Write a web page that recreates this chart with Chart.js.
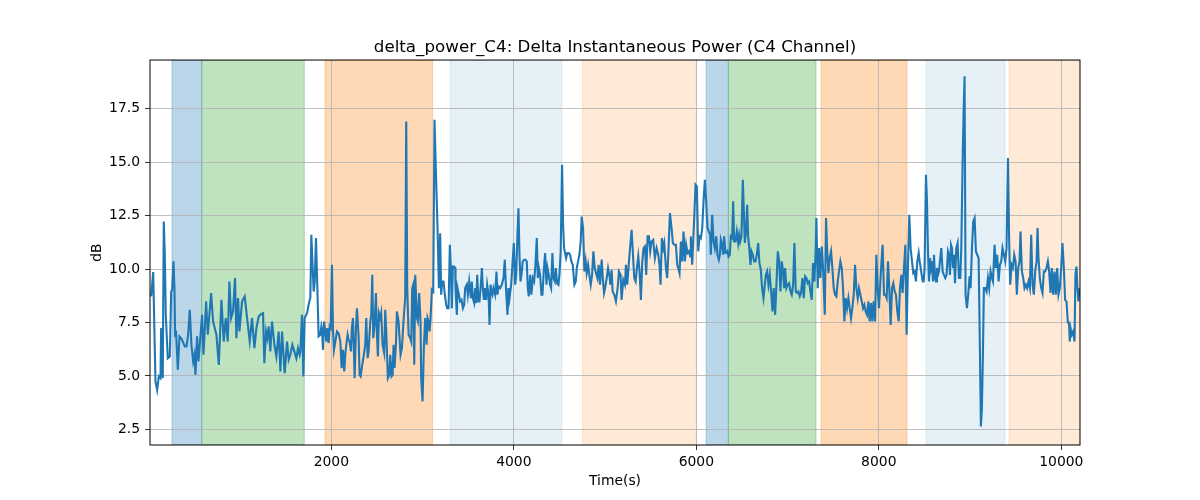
<!DOCTYPE html>
<html>
<head>
<meta charset="utf-8">
<script src="https://cdn.jsdelivr.net/npm/chart.js@4.4.1/dist/chart.umd.min.js"></script>
<style>
  html, body { margin: 0; padding: 0; background: #fff; }
</style>
</head>
<body>
<canvas id="powerChart" width="1200" height="500"></canvas>
<script>
// samples: time (s) and delta power (dB)
var timeSec = [
  26,48,73,91,110,128,135,153,164,175,
  186,208,230,245,256,270,281,288,299,318,
  336,354,372,394,413,431,449,467,486,500,
  511,529,544,584,599,628,646,683,704,741,
  767,796,821,843,865,883,902,923,945,960,
  978,993,1022,1051,1077,1106,1131,1157,1179,1204,
  1230,1252,1266,1285,1299,1314,1332,1350,1376,1398,
  1423,1442,1460,1489,1515,1533,1551,1573,1595,1617,
  1635,1653,
  1661,1679,1694,1708,1734,1759,1770,1781,1796,1807,
  1818,1832,1847,1861,1880,1891,1898,1909,1920,1934,
  1945,1956,1971,1982,1993,2007,2018,2029,2044,2062,
  2080,2099,2113,2128,2142,2153,2164,2179,2190,2201,
  2215,2226,2237,2256,2270,2281,2299,2310,2321,2336,
  2354,2372,2383,2398,2409,2427,2438,2449,2460,2474,
  2489,2500,2511,2522,2537,2547,2562,2580,2591,2602,
  2620,2635,2646,2661,2672,2682,2693,2708,2719,2737,
  2759,2774,2792,2810,2821,2832,2847,2865,2876,2887,
  2898,2909,2920,2938,2949,2963,2978,2985,3000,3015,
  3029,3044,3055,3066,3077,3088,3102,3117,3131,3146,
  3164,3179,3193,3204,3215,3230,3244,3259,3270,3285,
  3299,3310,3321,3332,3347,3358,
  3361,3376,3383,3398,3412,3427,3442,3456,3467,3485,
  3496,3511,3529,3540,3551,3566,3577,3588,3599,3613,
  3624,3639,3650,3661,3672,3686,3697,3708,3723,3734,
  3745,3755,3766,3777,3796,3810,3821,3832,3850,3869,
  3887,3901,3916,3931,3942,3953,3971,3985,4000,4015,
  4026,4040,4051,4062,4073,4084,4098,4113,4128,4142,
  4153,4164,4179,4193,4208,4223,4237,4252,4263,4274,
  4288,4303,4314,4328,4343,4358,4369,4383,4398,4409,
  4423,4434,4449,4460,4474,4489,4500,4514,4529,4540,
  4551,4562,4573,4587,4602,4617,4631,4646,4664,4679,
  4690,4704,4719,4733,4744,4759,4774,4788,4799,4814,
  4828,4843,4858,4872,4887,4901,4916,4930,4945,4963,
  4978,4989,5000,5018,5033,5047,5055,
  5057,5072,5083,5101,5119,5138,5152,5170,5181,5200,
  5218,5229,5243,5262,5280,5291,5306,5320,5335,5349,
  5364,5378,5393,5408,5422,5437,5451,5466,5481,5495,
  5510,5528,5546,5565,5583,5597,5608,5623,5638,5649,
  5667,5681,5696,5711,5729,5743,5758,5776,5791,5802,
  5816,5831,5846,5860,5875,5889,5904,5919,5933,5940,
  5955,5966,5977,5992,6006,6021,6035,6050,6065,6079,
  6094,6108,6123,6137,6152,6159,6174,6189,6203,6218,
  6232,6247,6258,6269,6283,6294,6305,6320,6331,6342,
  6353,6367,6378,6393,6404,6415,6429,6444,6459,6470,
  6481,6495,6510,6521,6532,6546,6557,6568,6579,6594,
  6605,6619,6634,6648,6663,6678,6692,6707,6721,6736,
  6751,
  6762,6776,6791,6805,6820,6835,6849,6864,6878,6893,
  6908,6922,6937,6951,6962,6973,6988,7003,7017,7032,
  7046,7061,7075,7090,7105,7119,7134,7148,7163,7178,
  7192,7207,7221,7236,7251,7265,7280,7294,7309,7316,
  7331,7346,7360,7375,7389,7408,7422,7433,7448,7462,
  7477,7491,7506,7521,7535,7550,7564,7579,7594,7608,
  7623,7637,7652,7667,7681,7696,7710,7725,7740,7754,
  7769,7783,7798,7813,7827,7842,7856,7871,7886,7900,
  7915,7929,7944,7959,7973,7988,8002,8017,8032,8042,
  8057,8072,8086,8101,8115,8130,8145,8159,8174,8188,
  8203,8218,8232,8247,8261,8276,8291,8305,8320,8334,
  8349,8364,8378,8393,8407,8422,8437,8448,
  8459,8470,8481,8492,8502,8517,8528,8539,8550,8561,
  8572,8583,8594,8605,8616,8627,8637,8648,8659,8670,
  8685,8700,8714,8729,8743,8758,8769,8780,8791,8802,
  8813,8824,8835,8849,8864,8878,8893,8904,8918,8929,
  8940,8951,8966,8980,8995,9006,9021,9035,9050,9064,
  9079,9094,9108,9119,9130,9141,9152,9167,9181,9196,
  9210,9225,9240,9251,9269,9283,9298,9313,9327,9342,
  9356,9371,9386,9400,9415,9429,9440,9455,9469,9484,
  9499,9513,9528,9542,9553,9568,9583,9597,9612,9626,
  9641,9656,9670,9685,9699,9714,9729,9740,9750,9765,
  9780,9794,9809,9823,9838,9853,9867,9882,9896,9911,
  9926,9940,9955,9969,9984,9999,10013,10028,10042,10057,
  10071,10086,10093,10101,10115,10130,10145,10155,10166,10177,
  10188,10199
];

var deltaDb = [
  8.72,9.86,4.74,4.35,4.98,4.90,7.24,4.90,12.23,10.67,
  7.86,5.83,5.91,8.95,9.03,10.36,9.11,6.93,7.00,5.29,
  6.85,6.77,6.61,6.38,6.38,6.93,8.10,6.46,5.68,5.99,
  5.05,6.85,5.68,7.86,5.99,8.49,6.93,8.88,7.55,6.93,
  5.52,8.56,6.61,7.71,6.61,9.42,7.71,8.02,9.58,6.77,
  8.64,7.08,8.49,8.72,7.71,6.61,7.71,6.30,7.24,7.78,
  7.89,7.94,5.60,7.08,6.77,7.32,6.15,7.55,6.46,5.91,
  7.08,5.21,7.08,5.13,6.61,5.76,5.99,6.46,6.15,5.83,
  6.30,5.99,
  6.15,7.86,4.98,7.71,7.94,8.49,8.64,11.61,10.05,8.95,
  9.42,11.45,9.11,6.85,6.93,7.32,7.16,6.22,7.55,7.08,
  6.61,7.24,6.54,7.32,7.24,10.20,7.24,6.22,6.61,7.08,
  7.00,6.61,5.37,6.22,5.21,5.99,6.46,6.93,6.69,6.61,
  6.15,7.24,7.71,4.90,7.24,8.17,6.85,5.05,4.98,5.44,
  5.91,6.46,7.71,5.83,6.15,7.55,7.86,9.73,6.77,7.39,
  8.88,6.93,5.91,7.94,7.71,7.94,6.46,6.07,8.10,7.08,
  4.90,5.05,5.99,4.98,5.05,6.46,5.37,6.46,8.02,7.55,
  5.99,6.30,7.63,8.64,16.91,9.11,6.93,6.77,6.61,9.11,
  9.27,5.52,9.73,7.71,7.55,8.88,7.55,4.90,3.81,6.46,
  7.71,6.46,7.71,7.55,7.08,7.71,9.03,8.95,16.99,14.57,
  11.92,9.11,11.68,8.80,9.42,9.42,8.80,8.33,8.17,8.17,
  11.14,10.05,8.17,10.12,10.12,10.05,
  9.11,7.86,9.11,8.80,8.49,8.56,8.17,8.33,9.11,9.27,
  8.80,9.42,8.64,9.42,8.64,8.41,9.11,8.41,9.73,8.49,
  8.49,9.27,10.05,9.11,8.56,9.11,8.56,9.27,8.80,7.39,
  9.27,8.95,8.80,9.11,8.80,9.89,8.80,9.19,9.11,9.27,
  9.58,10.44,8.95,7.86,9.11,8.64,9.27,10.20,11.22,9.27,
  9.73,11.61,12.85,10.67,9.42,9.73,10.36,10.44,10.44,10.36,
  9.11,8.72,9.73,8.80,9.58,9.42,10.20,11.45,9.58,10.05,
  9.73,8.80,8.80,9.89,10.75,9.27,10.05,9.73,9.27,9.11,
  10.75,9.58,9.42,10.05,9.34,9.27,9.73,10.83,14.88,12.07,
  10.98,10.75,10.51,10.75,10.75,10.67,10.36,10.20,9.27,9.42,
  10.05,10.36,10.67,11.29,12.46,11.92,9.89,10.36,9.81,10.20,
  9.73,9.27,9.73,10.83,10.05,9.81,9.58,10.20,9.27,10.44,
  9.42,8.88,9.11,9.58,10.05,9.73,9.42,
  9.27,9.97,8.95,8.80,8.49,9.11,9.89,9.73,8.56,9.50,
  9.27,10.20,9.27,10.36,11.29,11.84,10.67,9.58,9.42,10.05,
  10.59,9.89,8.56,10.36,10.98,11.06,9.73,11.53,11.53,10.83,
  11.29,11.37,10.51,10.98,10.67,10.20,9.27,11.45,10.98,11.22,
  10.05,9.58,10.98,12.62,11.92,11.22,11.14,11.14,10.20,10.05,
  9.81,11.29,10.36,11.76,10.36,11.14,10.75,10.83,10.59,11.53,
  10.20,11.29,12.39,13.95,13.87,10.83,11.53,11.45,11.92,13.17,
  14.18,13.17,11.92,11.76,11.61,10.67,12.54,11.29,10.98,11.53,
  10.67,10.44,10.67,11.37,11.14,10.67,11.53,10.75,10.75,10.83,
  10.59,10.67,11.53,11.45,13.17,11.29,11.29,11.76,11.22,11.61,
  11.29,11.53,14.18,12.70,11.22,11.76,13.01,11.53,11.06,10.20,
  10.83,10.67,10.36,10.36,10.67,11.22,10.28,9.97,9.11,8.64,
  9.27,
  9.73,9.89,9.27,9.73,8.95,8.02,9.11,7.86,9.27,10.83,
  10.36,8.95,10.36,9.89,9.11,10.05,9.11,9.27,9.34,8.95,
  8.80,9.27,11.22,8.95,8.88,8.95,8.72,8.88,9.58,8.64,
  9.66,9.58,9.34,9.42,8.95,8.56,10.28,9.42,10.98,12.39,
  9.11,10.98,9.58,11.06,10.05,7.86,12.39,10.98,9.81,10.51,
  10.83,10.05,9.11,8.80,8.72,9.42,9.89,10.36,10.05,9.11,
  7.55,8.64,8.17,8.64,8.17,7.71,8.17,8.80,10.20,9.11,
  8.64,9.11,8.80,8.49,8.17,8.33,8.02,7.86,8.49,7.55,
  8.41,7.55,8.49,7.55,10.67,9.11,8.17,9.42,10.51,11.14,
  8.80,8.80,8.64,10.36,9.11,7.39,9.11,9.34,8.95,8.80,
  8.02,7.55,9.11,9.73,8.88,10.05,11.14,6.93,10.20,12.54,
  10.98,10.36,9.81,9.89,9.42,10.36,10.75,10.36,
  10.05,9.73,9.42,9.42,10.05,14.41,13.17,10.83,9.42,10.51,
  10.05,10.36,9.42,10.67,9.58,9.42,10.05,9.73,9.89,10.36,
  10.98,9.89,9.73,9.58,9.73,10.83,10.67,9.73,11.14,10.98,
  10.05,10.67,9.34,10.98,11.22,9.58,9.58,10.98,14.88,17.22,
  19.02,8.80,8.17,8.80,9.66,9.11,10.98,12.23,12.39,10.83,
  10.67,10.51,6.30,2.64,3.49,5.99,9.11,9.11,8.95,9.58,
  9.11,9.89,9.58,9.42,11.14,10.05,10.67,9.42,10.20,10.36,
  10.98,10.67,10.36,10.98,15.20,11.29,9.27,10.20,10.05,10.67,
  10.36,8.80,10.05,10.36,11.76,9.89,9.58,9.11,9.27,9.11,
  9.42,9.11,11.61,9.27,8.80,9.89,10.36,11.92,10.51,9.58,
  9.11,8.88,9.89,9.89,10.05,10.36,9.89,8.88,10.05,8.80,
  9.89,8.80,10.05,8.80,9.11,10.05,11.22,10.05,8.56,8.49,
  7.55,7.39,6.61,7.24,6.93,7.08,6.61,9.73,10.12,9.11,
  8.49,9.11
];

// shaded stage intervals (s)
var spanStart = [254, 580, 1931, 3304, 4751, 6107, 6351, 7367, 8517, 9427];
var spanEnd = [580, 1704, 3111, 4525, 6000, 6351, 7312, 8309, 9383, 10205];
var spanColor = [
  'rgba(31,119,180,0.3)', 'rgba(44,160,44,0.3)', 'rgba(255,127,14,0.3)',
  'rgba(31,119,180,0.11)', 'rgba(255,127,14,0.16)',
  'rgba(31,119,180,0.3)', 'rgba(44,160,44,0.3)', 'rgba(255,127,14,0.3)',
  'rgba(31,119,180,0.11)', 'rgba(255,127,14,0.16)'
];

var xTicks = [2000, 4000, 6000, 8000, 10000];
var yTicks = [2.5, 5.0, 7.5, 10.0, 12.5, 15.0, 17.5];

var points = [];
for (var i = 0; i < Math.min(timeSec.length, deltaDb.length); i++) {
  points.push({x: timeSec[i], y: deltaDb[i]});
}

var spansPlugin = {
  id: 'spans',
  beforeDraw: function(chart) {
    var ctx = chart.ctx;
    var a = chart.chartArea;
    var xs = chart.scales.x;
    ctx.save();
    ctx.fillStyle = '#ffffff';
    ctx.fillRect(0, 0, chart.width, chart.height);
    ctx.beginPath();
    ctx.rect(a.left, a.top, a.right - a.left, a.bottom - a.top);
    ctx.clip();
    for (var i = 0; i < spanStart.length; i++) {
      var x0 = xs.getPixelForValue(spanStart[i]);
      var x1 = xs.getPixelForValue(spanEnd[i]);
      ctx.fillStyle = spanColor[i];
      ctx.fillRect(x0, a.top, x1 - x0, a.bottom - a.top);
      ctx.strokeStyle = spanColor[i];
      ctx.lineWidth = 1;
      ctx.strokeRect(x0, a.top, x1 - x0, a.bottom - a.top);
    }
    ctx.restore();
  },
  afterDraw: function(chart) {
    var ctx = chart.ctx;
    var a = chart.chartArea;
    ctx.save();
    ctx.strokeStyle = '#000';
    ctx.lineWidth = 1;
    ctx.strokeRect(a.left, a.top, a.right - a.left, a.bottom - a.top);
    ctx.restore();
  }
};

Chart.defaults.font.family = 'DejaVu Sans';
Chart.defaults.color = '#000';

var ctx = document.getElementById('powerChart');
new Chart(ctx, {
  type: 'line',
  data: {
    datasets: [{
      label: 'delta_power_C4',
      data: points,
      borderColor: '#1f77b4',
      borderWidth: 2.1,
      pointRadius: 0,
      fill: false,
      tension: 0
    }]
  },
  plugins: [spansPlugin],
  options: {
    responsive: false,
    animation: false,
    devicePixelRatio: 1,
    layout: {
      padding: {top: 0, right: 120, bottom: 0, left: 0}
    },
    plugins: {
      legend: {display: false},
      tooltip: {enabled: false},
      title: {
        display: true,
        text: 'delta_power_C4: Delta Instantaneous Power (C4 Channel)',
        fullSize: false,
        color: '#000',
        font: {size: 16.7, weight: 'normal', family: 'DejaVu Sans'},
        padding: {top: 38, bottom: 2}
      }
    },
    scales: {
      x: {
        type: 'linear',
        min: 13,
        max: 10205,
        afterBuildTicks: function(s) {
          s.ticks = xTicks.map(function(v) { return {value: v}; });
        },
        afterFit: function(s) { s.height = 55; },
        grid: {
          color: '#b0b0b0',
          lineWidth: 0.8,
          tickColor: '#000',
          tickLength: 5
        },
        border: {display: false},
        ticks: {
          autoSkip: false,
          maxRotation: 0,
          padding: 4,
          font: {size: 13.9},
          color: '#000',
          callback: function(v) { return String(v); }
        },
        title: {
          display: true,
          text: 'Time(s)',
          font: {size: 13.9},
          color: '#000',
          padding: {top: 0, bottom: 10}
        }
      },
      y: {
        type: 'linear',
        min: 1.77,
        max: 19.78,
        afterBuildTicks: function(s) {
          s.ticks = yTicks.map(function(v) { return {value: v}; });
        },
        afterFit: function(s) { s.width = 150; },
        grid: {
          color: '#b0b0b0',
          lineWidth: 0.8,
          tickColor: '#000',
          tickLength: 5
        },
        border: {display: false},
        ticks: {
          padding: 5,
          font: {size: 13.9},
          color: '#000',
          callback: function(v) { return Number(v).toFixed(1); }
        },
        title: {
          display: true,
          text: 'dB',
          font: {size: 13.9},
          color: '#000',
          padding: {top: 89, bottom: 0}
        }
      }
    }
  }
});
</script>
</body>
</html>
